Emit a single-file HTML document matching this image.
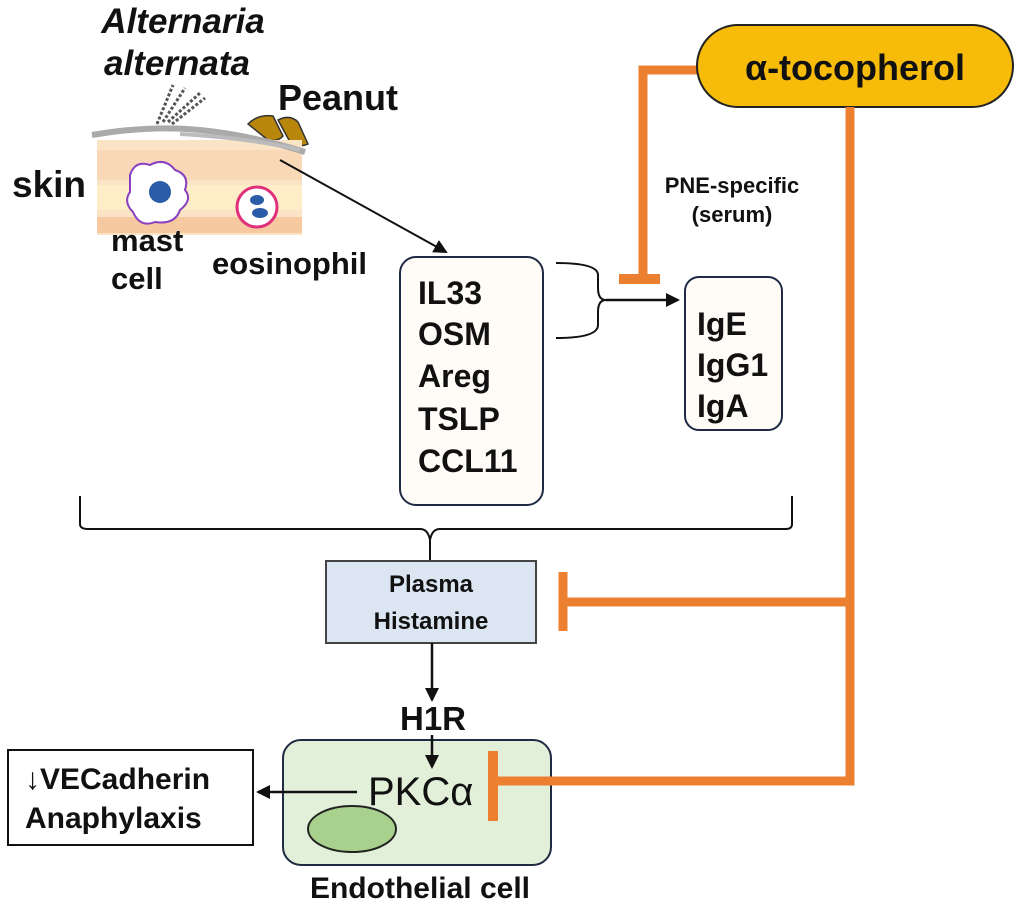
<!DOCTYPE html>
<html><head><meta charset="utf-8"><style>
html,body{margin:0;padding:0;background:#fff;}
svg{display:block;}
text{font-family:"Liberation Sans",Arial,sans-serif;fill:#111;}
</style></head><body>
<svg width="1024" height="907" viewBox="0 0 1024 907" xmlns="http://www.w3.org/2000/svg">
<defs>
<marker id="ah2" markerWidth="14" markerHeight="14" refX="12" refY="7" orient="auto" markerUnits="userSpaceOnUse" viewBox="0 0 14 14"><path d="M0,0 L14,7 L0,14 z" fill="#111"/></marker>
</defs>
<!-- skin -->
<text x="183" y="33" font-size="35" font-weight="bold" font-style="italic" text-anchor="middle">Alternaria</text>
<text x="177" y="75" font-size="35" font-weight="bold" font-style="italic" text-anchor="middle">alternata</text>
<g stroke="#555" stroke-width="3" stroke-dasharray="3,2"><line x1="157" y1="124" x2="173" y2="85"/><line x1="163" y1="122" x2="185" y2="88"/><line x1="168" y1="122" x2="200" y2="93"/><line x1="172" y1="124" x2="205" y2="98"/></g>
<text x="278" y="110" font-size="36" font-weight="bold">Peanut</text>
<path d="M248,124 q10,-10 25,-8 l10,20 q-5,6 -15,4 z" fill="#b8860b" stroke="#333" stroke-width="1.5"/>
<path d="M278,120 q12,-6 20,2 l10,22 q-8,4 -18,-2 z" fill="#b8860b" stroke="#333" stroke-width="1.5"/>
<rect x="97" y="140" width="205" height="95" fill="#fbe3c6"/>
<rect x="97" y="150" width="205" height="30" fill="#f9d8b8"/>
<rect x="97" y="185" width="205" height="25" fill="#fdeec8"/>
<rect x="97" y="217" width="205" height="16" fill="#f6c9a0"/>
<path d="M92,135 Q150,125 200,130 Q250,135 305,152" stroke="#aaa" stroke-width="6" fill="none"/>
<path d="M180,134 Q250,138 300,150" stroke="#bbb" stroke-width="4" fill="none"/>
<text x="12" y="197" font-size="37" font-weight="bold">skin</text>
<path d="M130,175 q5,-15 20,-10 q15,-8 25,5 q15,5 10,20 q8,10 -5,20 q-5,15 -25,12 q-15,6 -22,-10 q-10,-10 -3,-20 z" fill="#fff" stroke="#8a3fc0" stroke-width="2"/>
<circle cx="160" cy="192" r="11" fill="#2a5ca8"/>
<circle cx="257" cy="207" r="20" fill="#fff" stroke="#e0307a" stroke-width="3"/>
<ellipse cx="257" cy="200" rx="7" ry="5" fill="#2a5ca8"/><ellipse cx="260" cy="213" rx="8" ry="5" fill="#2a5ca8"/>
<text x="111" y="251" font-size="31" font-weight="bold">mast</text>
<text x="111" y="289" font-size="31" font-weight="bold">cell</text>
<text x="212" y="274" font-size="31" font-weight="bold">eosinophil</text>
<line x1="280" y1="160" x2="446" y2="252" stroke="#111" stroke-width="2" marker-end="url(#ah2)"/>
<!-- cytokine box -->
<rect x="400" y="257" width="143" height="248" rx="16" fill="#fffcf8" stroke="#1f2a44" stroke-width="2"/>
<g font-size="32" font-weight="bold"><text x="418" y="304">IL33</text><text x="418" y="345">OSM</text><text x="418" y="387">Areg</text><text x="418" y="430">TSLP</text><text x="418" y="472">CCL11</text></g>
<path d="M556,263 Q598,263 598,275 L598,288 Q598,300 606,300 Q598,300 598,312 L598,325 Q598,338 556,338" fill="none" stroke="#111" stroke-width="2"/>
<line x1="606" y1="300" x2="678" y2="300" stroke="#111" stroke-width="2.5" marker-end="url(#ah2)"/>
<text x="732" y="193" font-size="22" font-weight="bold" text-anchor="middle">PNE-specific</text>
<text x="732" y="222" font-size="22" font-weight="bold" text-anchor="middle">(serum)</text>
<rect x="685" y="277" width="97" height="153" rx="14" fill="#fffcf8" stroke="#1f2a44" stroke-width="2"/>
<g font-size="32" font-weight="bold"><text x="697" y="335">IgE</text><text x="697" y="376">IgG1</text><text x="697" y="417">IgA</text></g>
<!-- tocopherol -->
<path d="M700,70 L643,70 L643,278" stroke="#ed8030" stroke-width="9" fill="none"/>
<line x1="619" y1="279" x2="660" y2="279" stroke="#ed8030" stroke-width="10"/>
<rect x="697" y="25" width="316" height="82" rx="41" fill="#f7bb0a" stroke="#222" stroke-width="2"/>
<text x="855" y="80" font-size="36" font-weight="bold" text-anchor="middle">α-tocopherol</text>
<path d="M850,107 L850,781 L494,781" stroke="#ed8030" stroke-width="9" fill="none"/>
<line x1="850" y1="602" x2="565" y2="602" stroke="#ed8030" stroke-width="9"/>
<line x1="563" y1="572" x2="563" y2="631" stroke="#ed8030" stroke-width="9"/>
<!-- big brace -->
<path d="M80,496 L80,524 Q80,529 88,529 L420,529 Q428,529 430,540 L430,561 M430,540 Q432,529 440,529 L786,529 Q792,529 792,524 L792,496" fill="none" stroke="#111" stroke-width="2"/>
<rect x="326" y="561" width="210" height="82" fill="#dce6f2" stroke="#444" stroke-width="2"/>
<text x="431" y="592" font-size="24" font-weight="bold" text-anchor="middle">Plasma</text>
<text x="431" y="629" font-size="24" font-weight="bold" text-anchor="middle">Histamine</text>
<line x1="432" y1="643" x2="432" y2="700" stroke="#111" stroke-width="2.5" marker-end="url(#ah2)"/>
<text x="433" y="730" font-size="33" font-weight="bold" text-anchor="middle">H1R</text>
<!-- endothelial -->
<rect x="283" y="740" width="268" height="125" rx="18" fill="#e2efd9" stroke="#1f2a44" stroke-width="2"/>
<line x1="432" y1="735" x2="432" y2="767" stroke="#111" stroke-width="2.5" marker-end="url(#ah2)"/>
<line x1="493" y1="751" x2="493" y2="821" stroke="#ed8030" stroke-width="10"/>
<line x1="493" y1="781" x2="552" y2="781" stroke="#ed8030" stroke-width="9"/>
<text x="368" y="805" font-size="40">PKCα</text>
<ellipse cx="352" cy="829" rx="44" ry="23" fill="#a9d18e" stroke="#222" stroke-width="2"/>
<line x1="357" y1="792" x2="258" y2="792" stroke="#111" stroke-width="2.5" marker-end="url(#ah2)"/>
<rect x="8" y="750" width="245" height="95" fill="#fff" stroke="#111" stroke-width="2"/>
<text x="25" y="789" font-size="30" font-weight="bold">↓VECadherin</text>
<text x="25" y="828" font-size="30" font-weight="bold">Anaphylaxis</text>
<text x="420" y="898" font-size="30" font-weight="bold" text-anchor="middle">Endothelial cell</text>
</svg>
</body></html>
